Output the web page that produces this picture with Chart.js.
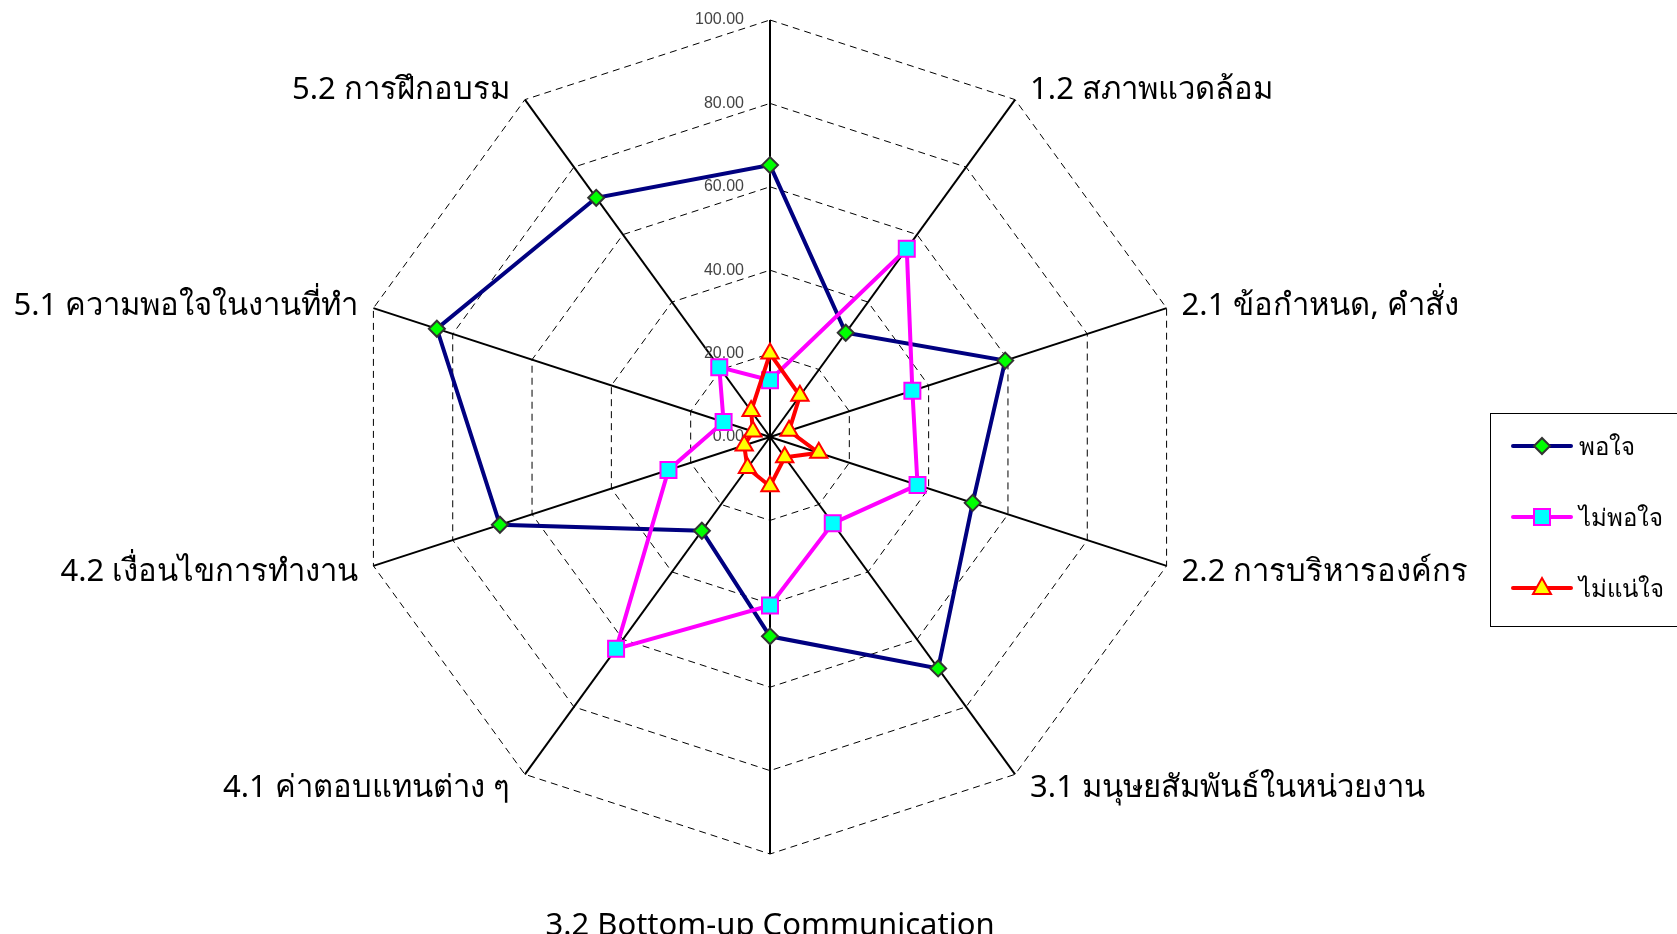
<!DOCTYPE html>
<html>
<head>
<meta charset="utf-8">
<script src="https://cdn.jsdelivr.net/npm/chart.js"></script>
<style>
  html, body { margin: 0; padding: 0; background: #fff; overflow: hidden; }
  #radar { position: absolute; left: 0; top: 0; }
</style>
</head>
<body>
<canvas id="radar" width="1677" height="934"></canvas>
<script>
var categories = [
    '1.1',
    '1.2 สภาพแวดล้อม',
    '2.1 ข้อกำหนด, คำสั่ง',
    '2.2 การบริหารองค์กร',
    '3.1 มนุษยสัมพันธ์ในหน่วยงาน',
    '3.2 Bottom-up Communication',
    '4.1 ค่าตอบแทนต่าง ๆ',
    '4.2 เงื่อนไขการทำงาน',
    '5.1 ความพอใจในงานที่ทำ',
    '5.2 การฝึกอบรม'
];
var seriesNames = ['พอใจ', 'ไม่พอใจ', 'ไม่แน่ใจ'];
var satisfied    = [65.2, 30.9, 59.3, 51.1, 68.6, 47.8, 27.8, 68.1, 84.0, 70.9];
var notSatisfied = [13.6, 55.8, 35.9, 37.2, 25.6, 40.4, 62.8, 25.6, 11.7, 20.7];
var unsure       = [20.0, 12.2, 4.8, 12.3, 6.0, 11.8, 9.2, 6.5, 4.3, 7.7];
var tickValues = [0, 20, 40, 60, 80, 100];

var labelFont = '31px "Noto Sans", "DejaVu Sans", sans-serif';

// tick labels at the left of the top axis
var tickPlugin = {
    id: 'tickText',
    beforeDatasetsDraw: function (chart) {
        var s = chart.scales.r;
        var ctx = chart.ctx;
        ctx.save();
        ctx.font = '16px "Liberation Sans", Arial, sans-serif';
        ctx.fillStyle = '#444';
        ctx.textAlign = 'right';
        ctx.textBaseline = 'middle';
        tickValues.forEach(function (v) {
            var y = s.yCenter - s.getDistanceFromCenterForValue(v);
            ctx.fillText(v.toFixed(2), s.xCenter - 26, y);
        });
        ctx.restore();
    }
};

// category names round the outside
var pointTextPlugin = {
    id: 'pointText',
    afterDraw: function (chart) {
        var s = chart.scales.r;
        var ctx = chart.ctx;
        ctx.save();
        ctx.font = labelFont;
        ctx.fillStyle = '#000';
        ctx.textBaseline = 'middle';
        categories.forEach(function (name, i) {
            var p = s.getPointPosition(i, s.drawingArea);
            var dx = p.x - s.xCenter;
            var cos = (s.yCenter - p.y) / s.drawingArea;
            var x = p.x, y = p.y - 14 * cos + 2;
            if (Math.abs(dx) < 1) {
                ctx.textAlign = 'center';
                y = p.y + (p.y > s.yCenter ? 72 : -72);
            } else if (dx > 0) {
                ctx.textAlign = 'left';
                x = p.x + 15;
            } else {
                ctx.textAlign = 'right';
                x = p.x - 15;
            }
            ctx.fillText(name, x, y);
        });
        ctx.restore();
    }
};

function marker(ctx, style, x, y, fill, stroke) {
    ctx.beginPath();
    if (style === 'rectRot') {
        ctx.moveTo(x - 8, y); ctx.lineTo(x, y - 8); ctx.lineTo(x + 8, y); ctx.lineTo(x, y + 8);
    } else if (style === 'rect') {
        ctx.rect(x - 8, y - 8, 16, 16);
    } else {
        ctx.moveTo(x, y - 10); ctx.lineTo(x + 9, y + 6); ctx.lineTo(x - 9, y + 6);
    }
    ctx.closePath();
    ctx.fillStyle = fill;
    ctx.fill();
    ctx.lineWidth = 2;
    ctx.strokeStyle = stroke;
    ctx.stroke();
}

var legendPlugin = {
    id: 'boxLegend',
    afterDraw: function (chart) {
        var ctx = chart.ctx;
        ctx.save();
        ctx.strokeStyle = '#000';
        ctx.lineWidth = 1;
        ctx.strokeRect(1490.5, 413.5, 200, 213);
        var rows = [446, 517, 588];
        chart.data.datasets.forEach(function (ds, i) {
            var y = rows[i];
            ctx.beginPath();
            ctx.moveTo(1513, y);
            ctx.lineTo(1571, y);
            ctx.lineCap = 'round';
            ctx.lineWidth = 4;
            ctx.strokeStyle = ds.borderColor;
            ctx.stroke();
            marker(ctx, ds.pointStyle, 1542, y, ds.pointBackgroundColor, ds.pointBorderColor);
            ctx.font = '24px "Noto Sans", "DejaVu Sans", sans-serif';
            ctx.fillStyle = '#000';
            ctx.textAlign = 'left';
            ctx.textBaseline = 'middle';
            ctx.fillText(seriesNames[i], 1579, y + 2);
        });
        ctx.restore();
    }
};

new Chart(document.getElementById('radar'), {
    type: 'radar',
    data: {
        labels: categories,
        datasets: [
            {
                label: seriesNames[0],
                data: satisfied,
                borderColor: '#000080',
                borderWidth: 4,
                fill: false,
                pointStyle: 'rectRot',
                pointRadius: 8,
                pointBackgroundColor: '#00ff00',
                pointBorderColor: '#333333',
                pointBorderWidth: 2,
                order: 3
            },
            {
                label: seriesNames[1],
                data: notSatisfied,
                borderColor: '#ff00ff',
                borderWidth: 4,
                fill: false,
                pointStyle: 'rect',
                pointRadius: 11.3,
                pointBackgroundColor: '#00ffff',
                pointBorderColor: '#ff00ff',
                pointBorderWidth: 2,
                order: 2
            },
            {
                label: seriesNames[2],
                data: unsure,
                borderColor: '#ff0000',
                borderWidth: 4,
                fill: false,
                pointStyle: 'triangle',
                pointRadius: 10,
                pointBackgroundColor: '#ffff00',
                pointBorderColor: '#ff0000',
                pointBorderWidth: 2,
                order: 1
            }
        ]
    },
    options: {
        responsive: false,
        devicePixelRatio: 1,
        animation: false,
        elements: { line: { tension: 0 } },
        plugins: {
            legend: { display: false },
            tooltip: { enabled: false }
        },
        scales: {
            r: {
                min: 0,
                max: 100,
                ticks: { stepSize: 20, display: false },
                pointLabels: { display: false },
                grid: { color: '#000', lineWidth: 1 },
                border: { dash: [7, 5] },
                angleLines: { color: '#000', lineWidth: 2 },
                afterFit: function (scale) {
                    scale.xCenter = 770;
                    scale.yCenter = 437;
                    scale.drawingArea = 417;
                }
            }
        }
    },
    plugins: [tickPlugin, pointTextPlugin, legendPlugin]
});
</script>
</body>
</html>
